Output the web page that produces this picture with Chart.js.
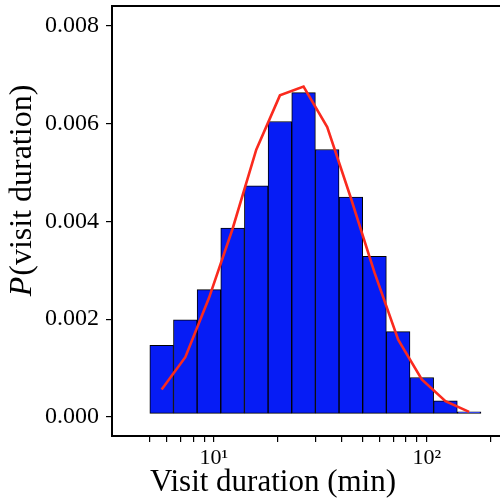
<!DOCTYPE html>
<html><head><meta charset="utf-8">
<style>
html,body{margin:0;padding:0;overflow:hidden;background:#fff;width:500px;height:502px}
#wrap{position:absolute;left:0;top:0;width:520px;height:502px}
</style>
<script src="https://cdn.jsdelivr.net/npm/chart.js@4/dist/chart.umd.min.js"></script>
</head><body>
<div id="wrap"><canvas id="c" width="520" height="502"></canvas></div>
<script>
// Histogram bin centres (min), log-spaced bins from 5 to 180 min
const binCenters = [5.683, 7.340, 9.479, 12.244, 15.815, 20.43, 26.38, 34.08, 44.01, 56.85, 73.43, 94.81, 122.47, 158.19];
// Histogram heights P(visit duration)
const histValues = [0.001464, 0.001984, 0.002603, 0.003865, 0.00473, 0.006045, 0.006638, 0.005472, 0.004499, 0.003284, 0.001744, 0.000804, 0.000327, 0.000102];
// Fitted curve (red line)
const fitValues = [0.000558, 0.00122, 0.00243, 0.00385, 0.00547, 0.00658, 0.00676, 0.00593, 0.00448, 0.00295, 0.00158, 0.000763, 0.000319, 0.000102];
// Tick definitions
const xTickValues = [5, 6, 7, 8, 9, 10, 20, 30, 40, 50, 60, 70, 80, 90, 100, 200];
const xTickLabels = {10: '10\u00B9', 100: '10\u00B2'};
const yTickValues = [0, 0.002, 0.004, 0.006, 0.008];
const xTitle = 'Visit duration (min)';
const yTitleItalic = 'P';
const yTitleRest = '(visit duration)';

const FONT = '"Liberation Serif", "Times New Roman", serif';

const framePlugin = {
  id: 'frame',
  afterDraw(chart) {
    const ctx = chart.ctx, a = chart.chartArea;
    ctx.save();
    ctx.strokeStyle = '#000';
    ctx.lineWidth = 2;
    ctx.strokeRect(a.left, a.top, a.right - a.left, a.bottom - a.top);
    ctx.fillStyle = '#000';
    // x title
    ctx.font = '31px ' + FONT;
    ctx.textAlign = 'center';
    ctx.textBaseline = 'alphabetic';
    ctx.fillText(xTitle, 273, 491);
    // y title (rotated)
    ctx.translate(31, 191);
    ctx.rotate(-Math.PI / 2);
    ctx.textAlign = 'left';
    ctx.font = 'italic 32px ' + FONT;
    const w1 = ctx.measureText(yTitleItalic).width;
    ctx.font = '32px ' + FONT;
    const w2 = ctx.measureText(yTitleRest).width;
    const x0 = -(w1 + w2) / 2;
    ctx.font = 'italic 32px ' + FONT;
    ctx.fillText(yTitleItalic, x0, 0);
    ctx.font = '32px ' + FONT;
    ctx.fillText(yTitleRest, x0 + w1 + 1, 0);
    ctx.restore();
  }
};

new Chart(document.getElementById('c'), {
  type: 'bar',
  data: {
    datasets: [
      {
        type: 'line',
        data: binCenters.map((x, i) => ({x: x, y: fitValues[i]})),
        borderColor: '#fa2a1e',
        borderWidth: 2.6,
        pointRadius: 0,
        tension: 0,
        fill: false,
        order: 0
      },
      {
        type: 'bar',
        data: binCenters.map((x, i) => ({x: x, y: histValues[i]})),
        backgroundColor: '#061cf5',
        borderColor: '#000',
        borderWidth: 1,
        borderSkipped: false,
        barThickness: 'flex',
        barPercentage: 1,
        categoryPercentage: 1,
        base: 0.00007,
        order: 1
      }
    ]
  },
  options: {
    responsive: false,
    animation: false,
    devicePixelRatio: 1,
    layout: {padding: {left: 0, top: 6, right: 4, bottom: 0}},
    plugins: {legend: {display: false}, tooltip: {enabled: false}},
    scales: {
      x: {
        type: 'logarithmic',
        min: 3.321,
        max: 262.7,
        offset: false,
        grid: {offset: false, display: true, drawOnChartArea: false, drawTicks: true, tickLength: 6, color: '#000', lineWidth: 1.2},
        border: {display: false},
        ticks: {
          autoSkip: false, maxRotation: 0, minRotation: 0, padding: 3,
          color: '#000', font: {family: FONT, size: 22},
          callback: (v) => xTickLabels[v] || ''
        },
        afterBuildTicks: (s) => { s.ticks = xTickValues.map(v => ({value: v})); },
        afterFit: (s) => { s.height = 66; s.paddingLeft = 0; s.paddingRight = 0; }
      },
      y: {
        type: 'linear',
        min: -0.000393,
        max: 0.00841,
        grid: {display: true, drawOnChartArea: false, drawTicks: true, tickLength: 6, color: '#000', lineWidth: 1.2},
        border: {display: false},
        ticks: {
          padding: 7, color: '#000', font: {family: FONT, size: 24},
          callback: (v) => Number(v).toFixed(3)
        },
        afterBuildTicks: (s) => { s.ticks = yTickValues.map(v => ({value: v})); },
        afterFit: (s) => { s.width = 112; s.paddingTop = 0; s.paddingBottom = 0; }
      }
    }
  },
  plugins: [framePlugin]
});
</script>
</body></html>
